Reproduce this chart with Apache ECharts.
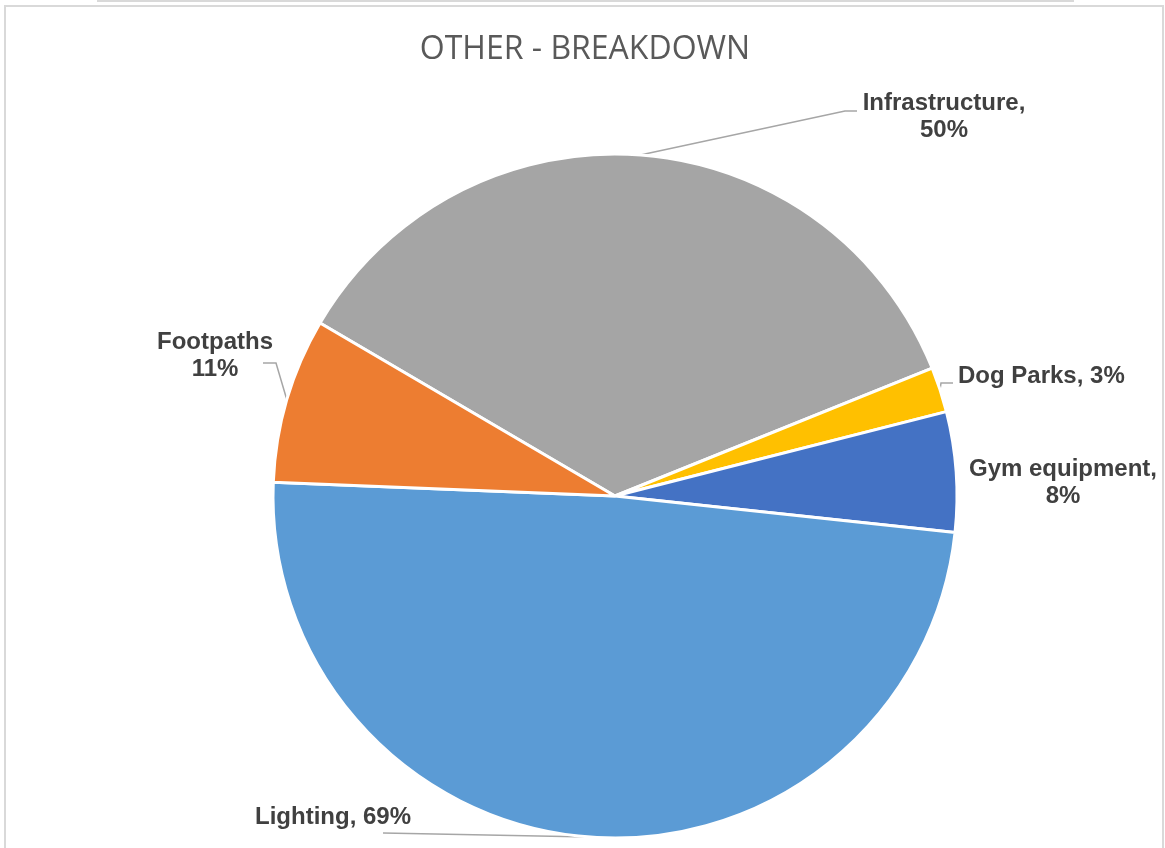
<!DOCTYPE html>
<html>
<head>
<meta charset="utf-8">
<title>Other - Breakdown</title>
<script src="https://cdn.jsdelivr.net/npm/echarts@6/dist/echarts.min.js"></script>
<style>
  html, body { margin: 0; padding: 0; background: #ffffff; }
  #chart { width: 1165px; height: 848px; }
</style>
</head>
<body>
<div id="chart"></div>
<script>
// Categories and their values (percent figures shown in the labels)
const categories = ['Infrastructure', 'Dog Parks', 'Gym equipment', 'Lighting', 'Footpaths'];
const values = [50, 3, 8, 69, 11];
const colors = ['#A5A5A5', '#FFC000', '#4472C4', '#5B9BD5', '#ED7D31'];
// Label text templates ({b} = name, {c} = value)
const labelFormats = ['{b},\n{c}%', '{b}, {c}%', '{b},\n{c}%', '{b}, {c}%', '{b}\n{c}%'];

// Label placement: anchor point, alignment and leader-line elbows
const labelPlacement = [
  { x: 944, y: 117, align: 'center', line: [[845, 111], [857, 111]] },
  { x: 958, y: 376, align: 'left',   line: [[941, 383], [953, 383]] },
  { x: 1063, y: 483, align: 'center', line: null },
  { x: 255, y: 817, align: 'left',   line: [[383, 833]] },
  { x: 215, y: 356, align: 'center', line: [[276, 363], [263, 363]] }
];

const chart = echarts.init(document.getElementById('chart'), null, { renderer: 'canvas' });

const seriesData = categories.map((name, i) => ({
  name: name,
  value: values[i],
  itemStyle: { color: colors[i] },
  label: { formatter: labelFormats[i] },
  labelLine: { show: labelPlacement[i].line !== null }
}));

chart.setOption({
  backgroundColor: '#ffffff',
  animation: false,
  title: {
    text: 'OTHER - BREAKDOWN',
    left: 580,
    top: 29,
    textAlign: 'center',
    textStyle: {
      fontFamily: '"Open Sans", sans-serif',
      fontWeight: 'normal',
      fontSize: 32,
      color: '#595959'
    }
  },
  graphic: [
    { type: 'rect', shape: { x: 97, y: 0, width: 977, height: 2 }, style: { fill: '#d9d9d9' }, silent: true },
    { type: 'rect', shape: { x: 5, y: 6, width: 1158, height: 900 }, style: { fill: null, stroke: '#d9d9d9', lineWidth: 2 }, silent: true }
  ],
  series: [{
    type: 'pie',
    center: [615, 496],
    radius: 342,
    startAngle: 149.6,
    clockwise: true,
    avoidLabelOverlap: false,
    itemStyle: { borderColor: '#ffffff', borderWidth: 3 },
    label: {
      show: true,
      position: 'outside',
      fontFamily: '"Liberation Sans", Arial, sans-serif',
      fontWeight: 'bold',
      fontSize: 24,
      lineHeight: 27,
      color: '#404040'
    },
    labelLine: {
      show: true,
      lineStyle: { color: '#A6A6A6', width: 1.5 }
    },
    labelLayout: function (params) {
      const p = labelPlacement[params.dataIndex];
      const out = { x: p.x, y: p.y, align: p.align, verticalAlign: 'middle' };
      if (p.line && params.labelLinePoints) {
        out.labelLinePoints = [params.labelLinePoints[0]].concat(p.line);
      }
      return out;
    },
    emphasis: { disabled: true },
    data: seriesData
  }]
});
</script>
</body>
</html>
